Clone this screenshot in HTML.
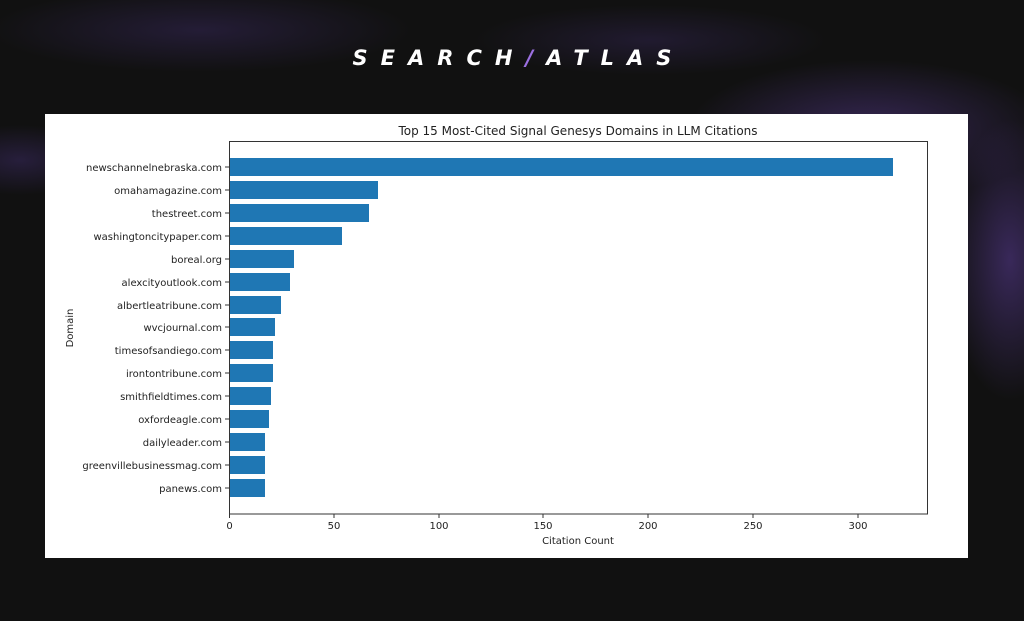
<!DOCTYPE html>
<html><head><meta charset="utf-8"><style>
html,body{margin:0;padding:0;}
body{width:1024px;height:621px;overflow:hidden;background:#111;position:relative;font-family:"DejaVu Sans","Liberation Sans",sans-serif;}
.bg{position:absolute;inset:0;background:
radial-gradient(ellipse 260px 100px at 870px 130px,rgba(90,60,150,0.5),transparent 70%),
radial-gradient(ellipse 90px 200px at 1010px 260px,rgba(90,60,150,0.55),transparent 70%),
radial-gradient(ellipse 300px 60px at 200px 30px,rgba(80,55,140,0.3),transparent 70%),
radial-gradient(ellipse 120px 50px at 20px 160px,rgba(80,55,140,0.35),transparent 70%),
radial-gradient(ellipse 250px 50px at 650px 40px,rgba(80,55,140,0.25),transparent 70%);}
.logo{position:absolute;top:46px;left:0;width:1024px;text-align:center;color:#fff;font-family:"DejaVu Sans","Liberation Sans",sans-serif;font-weight:bold;font-style:italic;font-size:21px;letter-spacing:13px;text-indent:13px;}
.logo span{color:#9b6fe0;}
</style></head><body>
<div class="bg"></div>
<div class="logo">SEARCH<span>/</span>ATLAS</div>
<svg style="position:absolute;left:0;top:0" width="1024" height="621" font-family="DejaVu Sans, Liberation Sans, sans-serif">
<rect x="45" y="114" width="923" height="444" fill="#fff"/>
<text x="578" y="135" text-anchor="middle" font-size="12" fill="#222">Top 15 Most-Cited Signal Genesys Domains in LLM Citations</text>
<g fill="#1f77b4">
<rect x="229" y="158" width="664" height="18"/>
<rect x="229" y="181" width="149" height="18"/>
<rect x="229" y="204" width="140" height="18"/>
<rect x="229" y="227" width="113" height="18"/>
<rect x="229" y="250" width="65" height="18"/>
<rect x="229" y="273" width="61" height="18"/>
<rect x="229" y="296" width="52" height="18"/>
<rect x="229" y="318" width="46" height="18"/>
<rect x="229" y="341" width="44" height="18"/>
<rect x="229" y="364" width="44" height="18"/>
<rect x="229" y="387" width="42" height="18"/>
<rect x="229" y="410" width="40" height="18"/>
<rect x="229" y="433" width="36" height="18"/>
<rect x="229" y="456" width="36" height="18"/>
<rect x="229" y="479" width="36" height="18"/>
</g>
<rect x="229.5" y="141.5" width="698" height="372.5" fill="none" stroke="#333" stroke-width="1"/>
<g font-size="10" fill="#222" text-anchor="end">
<text x="222" y="171">newschannelnebraska.com</text>
<text x="222" y="194">omahamagazine.com</text>
<text x="222" y="217">thestreet.com</text>
<text x="222" y="240">washingtoncitypaper.com</text>
<text x="222" y="263">boreal.org</text>
<text x="222" y="286">alexcityoutlook.com</text>
<text x="222" y="309">albertleatribune.com</text>
<text x="222" y="331">wvcjournal.com</text>
<text x="222" y="354">timesofsandiego.com</text>
<text x="222" y="377">irontontribune.com</text>
<text x="222" y="400">smithfieldtimes.com</text>
<text x="222" y="423">oxfordeagle.com</text>
<text x="222" y="446">dailyleader.com</text>
<text x="222" y="469">greenvillebusinessmag.com</text>
<text x="222" y="492">panews.com</text>
</g>
<g stroke="#333">
<line x1="225" x2="229" y1="167" y2="167"/><line x1="225" x2="229" y1="190" y2="190"/><line x1="225" x2="229" y1="213" y2="213"/><line x1="225" x2="229" y1="236" y2="236"/><line x1="225" x2="229" y1="259" y2="259"/><line x1="225" x2="229" y1="282" y2="282"/><line x1="225" x2="229" y1="305" y2="305"/><line x1="225" x2="229" y1="327" y2="327"/><line x1="225" x2="229" y1="350" y2="350"/><line x1="225" x2="229" y1="373" y2="373"/><line x1="225" x2="229" y1="396" y2="396"/><line x1="225" x2="229" y1="419" y2="419"/><line x1="225" x2="229" y1="442" y2="442"/><line x1="225" x2="229" y1="465" y2="465"/><line x1="225" x2="229" y1="488" y2="488"/>
<line x1="229.5" x2="229.5" y1="514" y2="518"/><line x1="334" x2="334" y1="514" y2="518"/><line x1="439" x2="439" y1="514" y2="518"/><line x1="543" x2="543" y1="514" y2="518"/><line x1="648" x2="648" y1="514" y2="518"/><line x1="753" x2="753" y1="514" y2="518"/><line x1="858" x2="858" y1="514" y2="518"/>
</g>
<g font-size="10" fill="#222" text-anchor="middle">
<text x="229.5" y="529">0</text><text x="334" y="529">50</text><text x="439" y="529">100</text><text x="543" y="529">150</text><text x="648" y="529">200</text><text x="753" y="529">250</text><text x="858" y="529">300</text>
<text x="578" y="544">Citation Count</text>
<text transform="translate(73,328) rotate(-90)">Domain</text>
</g>
</svg>
</body></html>
